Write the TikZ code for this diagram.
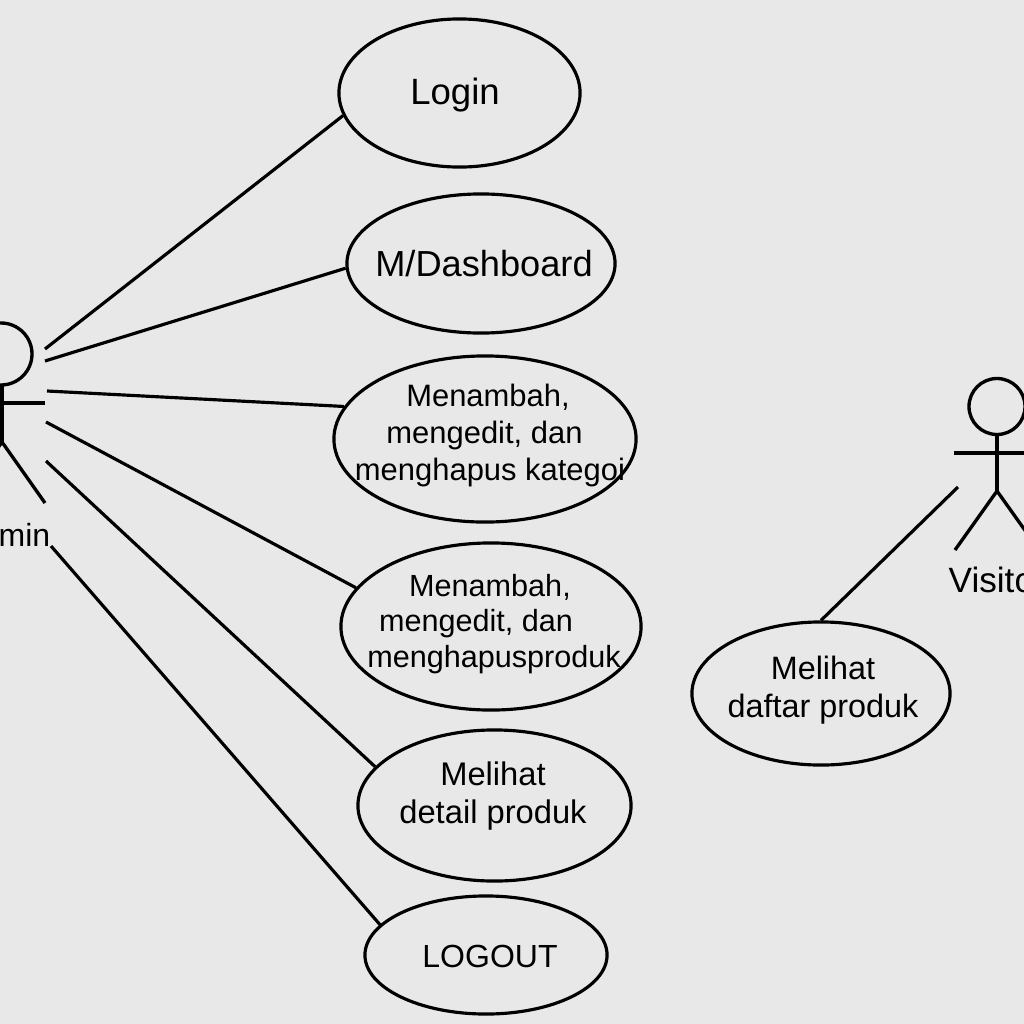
\documentclass[tikz,border=0pt]{standalone}
\usepackage{fontspec}
\setmainfont{Liberation Sans}
\usetikzlibrary{shapes.geometric}
\definecolor{bggray}{HTML}{E8E8E8}
\tikzset{
    usecase/.style={ellipse,draw,line width=0.9pt,inner sep=0pt},
    link/.style={line width=0.9pt},
    stick/.style={line width=0.95pt},
    caption/.style 2 args={inner sep=0pt,align=center,font=\fontsize{#1}{#2}\selectfont},
}

\begin{document}
\begin{tikzpicture}[x=0.01cm,y=-0.01cm]
        \useasboundingbox (0,0) rectangle (1024,1024);
        \fill[bggray] (0,0) rectangle (1024,1024);
        % use cases
        \node[usecase,minimum width=2.41cm,minimum height=1.48cm] (login) at (459.5,93) {};
        \node[usecase,minimum width=2.68cm,minimum height=1.39cm] (dashboard) at (481,263.5) {};
        \node[usecase,minimum width=3.02cm,minimum height=1.66cm] (kategori) at (485,439) {};
        \node[usecase,minimum width=3.00cm,minimum height=1.67cm] (produk) at (491,626.5) {};
        \node[usecase,minimum width=2.73cm,minimum height=1.51cm] (detail) at (494.5,805.5) {};
        \node[usecase,minimum width=2.42cm,minimum height=1.18cm] (logout) at (486,955) {};
        \node[usecase,minimum width=2.58cm,minimum height=1.43cm] (daftar) at (821,693.5) {};
        % texts
        \node[caption={10.4pt}{11pt}] (loginText) at (455,95) {Login};
        \node[caption={10.3pt}{11pt}] (dashboardText) at (484,263.5) {M/Dashboard};
        \node[caption={8.8pt}{10.4pt}] (kategoriText) at (490,435.5) {Menambah,\rule{0.04cm}{0pt}\\mengedit, dan\rule{0.11cm}{0pt}\\menghapus kategoi};
        \node[caption={8.7pt}{10.2pt}] (produkText) at (494,624) {Menambah,\rule{0.08cm}{0pt}\\mengedit, dan\rule{0.36cm}{0pt}\\menghapusproduk};
        \node[caption={9.3pt}{10.8pt}] (detailText) at (493,796.5) {Melihat\\detail produk};
        \node[caption={9.1pt}{11pt}] (logoutText) at (490,956) {LOGOUT};
        \node[caption={9.2pt}{10.8pt}] (daftarText) at (823,690) {Melihat\\daftar produk};
        % admin
        \coordinate (adminNeck) at (2,385);
        \coordinate (adminHip) at (2,442);
        \draw[stick] (1,354) circle (31);
        \draw[stick] (adminNeck) -- (adminHip);
        \draw[stick] (-41,403) -- (45,403);
        \draw[stick] (adminHip) -- (45,503);
        \draw[stick] (adminHip) -- (-41,503);
        \node[inner sep=0pt,anchor=base east,font=\fontsize{9.1pt}{10pt}\selectfont] (adminName) at (51,546) {min};
        % visitor
        \coordinate (visitorNeck) at (997,435);
        \coordinate (visitorHip) at (997,491);
        \draw[stick] (997,406.5) circle (28);
        \draw[stick] (visitorNeck) -- (visitorHip);
        \draw[stick] (954,453) -- (1040,453);
        \draw[stick] (visitorHip) -- (955,550);
        \draw[stick] (visitorHip) -- (1039,550);
        \node[inner sep=0pt,anchor=base west,font=\fontsize{10pt}{10pt}\selectfont] (visitorName) at (948,592) {Visito};
        % connectors
        \coordinate (a1) at (45,349);
        \coordinate (a2) at (45,361);
        \coordinate (a3) at (47,391);
        \coordinate (a4) at (46,422);
        \coordinate (a5) at (46,461);
        \coordinate (a6) at (51,546);
        \coordinate (v1) at (958,487);
        \draw[link] (a1) -- (login.191.9);
        \draw[link] (a2) -- (dashboard.182.8);
        \draw[link] (a3) -- (kategori.167.6);
        \draw[link] (a4) -- (produk.164.1);
        \draw[link] (a5) -- (detail.162.1);
        \draw[link] (a6) -- (logout.164.6);
        \draw[link] (v1) -- (daftar.90);
    \end{tikzpicture}
\end{document}
